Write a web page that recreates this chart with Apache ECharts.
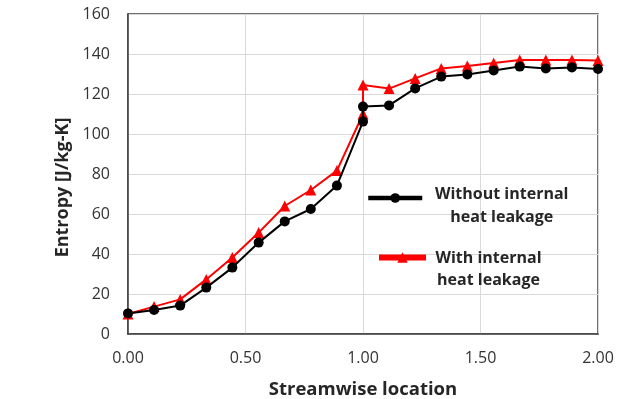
<!DOCTYPE html>
<html><head><meta charset="utf-8">
<script src="https://cdn.jsdelivr.net/npm/echarts@6/dist/echarts.min.js"></script>
<style>html,body{margin:0;padding:0;background:#fff}#c{width:622px;height:399px}</style>
</head><body><div id="c"></div>
<script>
const xLoc = [0, 0.111, 0.222, 0.333, 0.444, 0.556, 0.667, 0.778, 0.889, 1.0, 1.0, 1.111, 1.222, 1.333, 1.444, 1.556, 1.667, 1.778, 1.889, 2.0];
const withoutLeak = [10.3, 12, 14.2, 23.2, 33.2, 45.7, 56.3, 62.5, 74.2, 106.2, 113.7, 114.3, 122.8, 128.7, 129.8, 131.8, 133.7, 132.8, 133.3, 132.5];
const withLeak = [10, 13.7, 17.3, 27.3, 38.2, 50.7, 64, 72, 81.7, 110, 124.5, 122.7, 127.8, 132.8, 134, 135.5, 137, 137, 137, 136.7];
const nameWithout = 'Without internal heat leakage';
const nameWith = 'With internal heat leakage';
const font = '"Open Sans", sans-serif';
const pairs = ys => xLoc.map((x, i) => [x, ys[i]]);
const legendFmt = n => n === nameWithout ? '{a|Without internal}\n{a|heat leakage}' : '{a|With internal}\n{a|heat leakage}';
const legendText = (w, lh, pt) => ({fontFamily: font, padding: [pt, 0, 0, 0],
  rich: {a: {fontFamily: font, fontWeight: 'bold', fontSize: 16, color: '#262626', width: w, align: 'center', lineHeight: lh}}});
const chart = echarts.init(document.getElementById('c'), null, {renderer: 'canvas'});
chart.setOption({
  animation: false,
  backgroundColor: '#fff',
  grid: {left: 128, right: 24, top: 14, bottom: 65, containLabel: false, outerBoundsMode: 'none',
         show: true, borderColor: '#404040', borderWidth: 1.5, backgroundColor: 'transparent'},
  legend: [
    {data: [nameWithout], left: 366, top: 186, padding: 0, itemWidth: 54, itemHeight: 12, itemGap: 0,
     lineStyle: {width: 4.5}, formatter: legendFmt, textStyle: legendText(149, 23, 15)},
    {data: [nameWith], left: 376, top: 250, padding: 0, itemWidth: 47, itemHeight: 13, itemGap: 0,
     lineStyle: {width: 6}, formatter: legendFmt, textStyle: legendText(115, 22, 23)}
  ],
  xAxis: {
    type: 'value', min: 0, max: 2, interval: 0.5,
    name: 'Streamwise location', nameLocation: 'middle', nameGap: 46,
    nameTextStyle: {fontFamily: font, fontWeight: 'bold', fontSize: 18.5, color: '#262626'},
    axisLine: {show: true, lineStyle: {color: '#404040', width: 1.5}},
    axisTick: {show: false},
    axisLabel: {formatter: v => v.toFixed(2), fontFamily: font, fontSize: 16, color: '#333', margin: 16},
    splitLine: {show: true, lineStyle: {color: '#d9d9d9', width: 1}}
  },
  yAxis: {
    type: 'value', min: 0, max: 160, interval: 20,
    name: 'Entropy [J/kg-K]', nameLocation: 'middle', nameGap: 53,
    nameTextStyle: {fontFamily: font, fontWeight: 'bold', fontSize: 18, color: '#262626', padding: [0, 27, 0, 0]},
    axisLine: {show: true, lineStyle: {color: '#404040', width: 1.5}},
    axisTick: {show: false},
    axisLabel: {fontFamily: font, fontSize: 16, color: '#333', margin: 18},
    splitLine: {show: true, lineStyle: {color: '#d9d9d9', width: 1}}
  },
  series: [
    {name: nameWith, type: 'line', data: pairs(withLeak), symbol: 'triangle', symbolSize: 11,
     itemStyle: {color: '#ff0000'}, lineStyle: {color: '#ff0000', width: 2}, z: 2},
    {name: nameWithout, type: 'line', data: pairs(withoutLeak), symbol: 'circle', symbolSize: 10,
     itemStyle: {color: '#000'}, lineStyle: {color: '#000', width: 2}, z: 3}
  ]
});
</script></body></html>
